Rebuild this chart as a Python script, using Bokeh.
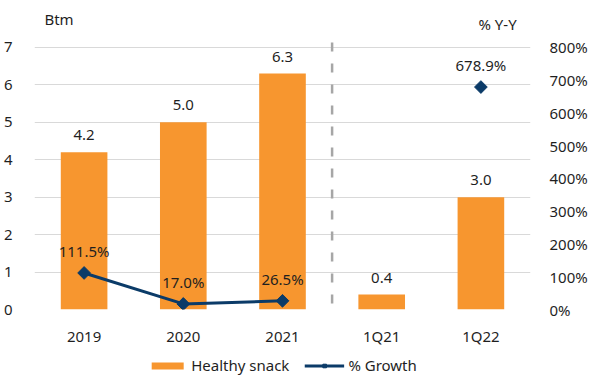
from bokeh.plotting import figure
from bokeh.layouts import column
from bokeh.models import (ColumnDataSource, LinearAxis, Range1d, FixedTicker,
                          PrintfTickFormatter, Legend, LegendItem)
from bokeh.embed import file_html
from bokeh.resources import INLINE
from bokeh.core.properties import value

# Healthy snack sales (Btm) and year-on-year growth (%)
categories = ["2019", "2020", "2021", "1Q21", "1Q22"]
sales = [4.2, 5.0, 6.3, 0.4, 3.0]
sales_labels = ["4.2", "5.0", "6.3", "0.4", "3.0"]

growth_cats = ["2019", "2020", "2021", "1Q22"]
growth = [111.5, 17.0, 26.5, 678.9]
growth_labels = ["111.5%", "17.0%", "26.5%", "678.9%"]

left_ticks = [0, 1, 2, 3, 4, 5, 6, 7]
right_ticks = [0, 100, 200, 300, 400, 500, 600, 700, 800]

ORANGE = "#F7962F"
NAVY = "#0B3B68"
TEXT = "#1F1F1F"
GRID = "#D9D9D9"
FONT = "Noto Sans"
FS = "15px"
W = 601


def bare(fig):
    fig.outline_line_color = None
    fig.background_fill_color = "white"
    fig.border_fill_color = "white"
    fig.xaxis.visible = False
    fig.yaxis.visible = False
    fig.xgrid.visible = False
    fig.ygrid.visible = False


# --- header strip with the unit captions ---
head_h = 36
head = figure(width=W, height=head_h, x_range=Range1d(0, W),
              y_range=Range1d(0, head_h), output_backend="svg",
              toolbar_location=None, min_border=0)
bare(head)
head.text(x=[12], y=[18], text=["Btm"], text_baseline="middle",
          text_font=value(FONT), text_font_size=FS, text_color=TEXT)
head.text(x=[538], y=[13], text=["% Y-Y"], text_baseline="middle",
          text_font=value(FONT), text_font_size=FS, text_color=TEXT)

# --- main chart ---
y_top = 7.29
p = figure(x_range=categories, y_range=Range1d(0, y_top),
           width=W, height=318, output_backend="svg", toolbar_location=None,
           min_border_left=33, min_border_right=71, min_border_top=0,
           min_border_bottom=45)
p.extra_y_ranges = {"pct": Range1d(0, 800 * y_top / 7)}
p.outline_line_color = None
p.background_fill_color = "white"
p.border_fill_color = "white"

bars = ColumnDataSource(dict(x=categories, y=sales, label=sales_labels))
pts = ColumnDataSource(dict(x=growth_cats, y=growth, label=growth_labels))
line_src = ColumnDataSource(dict(x=growth_cats[:3], y=growth[:3]))

p.vbar(x="x", top="y", width=0.47, source=bars, fill_color=ORANGE,
       line_color=None)
p.text(x="x", y="y", text="label", source=bars, text_align="center",
       text_baseline="middle", y_offset=-17, text_font_size=FS,
       text_color=TEXT, text_font=value(FONT))

# dashed divider between annual and quarterly figures
p.segment(x0=[3], y0=[0.16], x1=[3], y1=[7.27], line_color="#A6A6A6",
          line_width=2.5, line_dash="9 12")

p.line(x="x", y="y", source=line_src, y_range_name="pct",
       line_color=NAVY, line_width=3)
p.scatter(x="x", y="y", source=pts, y_range_name="pct", marker="square",
          angle=0.7854, size=9, fill_color=NAVY, line_color=NAVY)
p.text(x="x", y="y", text="label", source=pts, y_range_name="pct",
       text_align="center", text_baseline="middle", y_offset=-22,
       text_font_size=FS, text_color=TEXT, text_font=value(FONT))

# axes and grid
p.yaxis.ticker = FixedTicker(ticks=left_ticks)
p.xgrid.grid_line_color = None
p.ygrid.ticker = FixedTicker(ticks=left_ticks)
p.ygrid.grid_line_color = GRID
p.ygrid.grid_line_width = 1

right = LinearAxis(y_range_name="pct", ticker=FixedTicker(ticks=right_ticks),
                   formatter=PrintfTickFormatter(format="%d%%"))
p.add_layout(right, "right")

for ax in [p.xaxis[0], p.yaxis[0], right]:
    ax.axis_line_color = None
    ax.major_tick_line_color = None
    ax.minor_tick_line_color = None
    ax.major_label_text_font = FONT
    ax.major_label_text_font_size = FS
    ax.major_label_text_color = TEXT
p.xaxis.major_label_standoff = 10
p.yaxis[0].major_label_standoff = 16
right.major_label_standoff = 13

# --- footer strip with the legend ---
# swatch renderers sit outside the strip's visible range; only their legend
# entries show
foot = figure(width=W, height=22, x_range=Range1d(0, 1), y_range=Range1d(0, 1),
              output_backend="svg", toolbar_location=None, min_border=0)
bare(foot)
swatch = ColumnDataSource(dict(x=[-5], y=[-5]))
sw_bar = foot.vbar(x="x", top="y", width=0.5, source=swatch,
                   fill_color=ORANGE, line_color=None)
sw_line = foot.line(x="x", y="y", source=swatch, line_color=NAVY, line_width=3)
sw_pt = foot.scatter(x="x", y="y", source=swatch, marker="square", angle=0.7854,
                     size=7, fill_color=NAVY, line_color=NAVY)
legend = Legend(items=[LegendItem(label="Healthy snack", renderers=[sw_bar]),
                       LegendItem(label="% Growth", renderers=[sw_line, sw_pt])],
                orientation="horizontal", location="center",
                glyph_width=40, glyph_height=9, label_standoff=4,
                spacing=15, padding=0, margin=0,
                border_line_color=None, background_fill_alpha=0,
                label_text_font=FONT, label_text_font_size=FS,
                label_text_color=TEXT)
foot.add_layout(legend, "center")

layout = column(head, p, foot, spacing=0)
open("out.html", "w").write(file_html(layout, INLINE))
